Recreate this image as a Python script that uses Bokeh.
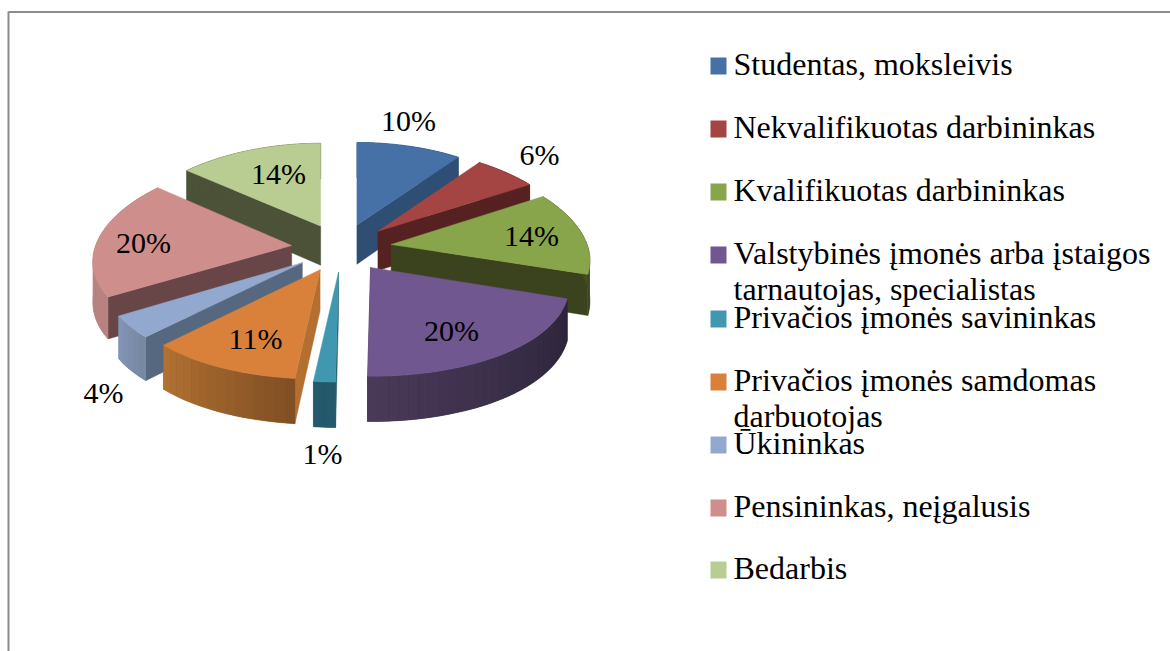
import math
from bokeh.plotting import figure
from bokeh.models import Range1d
from bokeh.core.properties import value
from bokeh.embed import file_html
from bokeh.resources import INLINE

categories = ["Studentas, moksleivis", "Nekvalifikuotas darbininkas", "Kvalifikuotas darbininkas",
              "Valstybinės įmonės arba įstaigos\ntarnautojas, specialistas", "Privačios įmonės savininkas",
              "Privačios įmonės samdomas\ndarbuotojas", "Ūkininkas", "Pensininkas, neįgalusis", "Bedarbis"]
shares = [10.0, 6.0, 14.0, 20.2, 1.5, 10.7, 3.9, 20.0, 13.7]
labels = ["10%", "6%", "14%", "20%", "1%", "11%", "4%", "20%", "14%"]
top_colors = ["#4571A7", "#A54543", "#88A54C", "#71578F", "#3F98B0", "#D9813B", "#92A8CF", "#CE8E8C", "#B9CC92"]
face_colors = ["#2E4E74", "#552221", "#3A431D", "#2E2540", "#24596B", "#B26F30", "#566880", "#684647", "#4B5238"]
wall_from = ["#2E4E74", "#552221", "#4C5A27", "#2B2339", "#24596B", "#7F4E23", "#75879F", "#B78280", "#4B5238"]
wall_to = ["#2E4E74", "#552221", "#3D4620", "#4A3A58", "#24596B", "#B37233", "#8395B8", "#B78280", "#4B5238"]
paint_order = [0, 8, 1, 7, 2, 6, 5, 3, 4]
label_x = [408, 539, 531, 451, 322, 255, 103, 143, 278]
label_y = [119.5, 153.5, 234.5, 329.5, 452.5, 337.5, 391.5, 241.5, 172.5]
legend_y = [63, 126, 189, 252, 316, 379, 442, 505, 567]
swatch_y = [65, 128, 191, 254, 318, 381, 444, 507, 569]

W, H = 1170, 651
CX, CY, A, B, KX, KY, EXPLODE, DEPTH = 341.0, 247.0, 196.0, 94.5, 0.17, 0.095, 0.255, 40.0


def project(ox, oy, du, dv, lower=False):
    v = oy + dv
    y = CY - B * v / (1 + KY * v)
    if lower:
        y += DEPTH / (1 + KY * v)
    return CX + A * ox + A * du / (1 + KX * dv), y


def hex_mix(c0, c1, t):
    a = [int(c0[i:i + 2], 16) for i in (1, 3, 5)]
    b = [int(c1[i:i + 2], 16) for i in (1, 3, 5)]
    return "#%02x%02x%02x" % tuple(round(p + (q - p) * t) for p, q in zip(a, b))


total = float(sum(shares))
starts, ends, run = [], [], 0.0
for s in shares:
    starts.append(run / total * 2 * math.pi)
    run += s
    ends.append(run / total * 2 * math.pi)

xs, ys, fills, edges = [], [], [], []


def add(poly, color, edge=1.0):
    xs.append([q[0] for q in poly])
    ys.append([q[1] for q in poly])
    fills.append(color)
    edges.append(edge)


for i in paint_order:
    a0, a1 = starts[i], ends[i]
    mid = (a0 + a1) / 2
    ox, oy = EXPLODE * math.sin(mid), EXPLODE * math.cos(mid)
    n = max(4, int((a1 - a0) / math.radians(2.5)))
    arc = [(ox, oy, math.sin(a0 + (a1 - a0) * k / n), math.cos(a0 + (a1 - a0) * k / n)) for k in range(n + 1)]
    apex = (ox, oy, 0.0, 0.0)
    # visible radial face
    edge = arc[-1] if mid < math.pi else arc[0]
    add([project(*apex), project(*edge), project(*edge, lower=True), project(*apex, lower=True)], face_colors[i])
    # outer wall: a solid base, then shading strips along the arc
    add([project(*q) for q in arc] + [project(*q, lower=True) for q in reversed(arc)],
        hex_mix(wall_from[i], wall_to[i], 0.5))
    for k in range(n):
        q0, q1 = arc[k], arc[k + 1]
        add([project(*q0), project(*q1), project(*q1, lower=True), project(*q0, lower=True)],
            hex_mix(wall_from[i], wall_to[i], (k + 0.5) / n), 0.0)
    # top
    add([project(*apex)] + [project(*q) for q in arc], top_colors[i])

p = figure(width=W, height=H, x_range=Range1d(0, W), y_range=Range1d(H, 0),
           output_backend="svg", toolbar_location=None, min_border=0)
p.xaxis.visible = False
p.yaxis.visible = False
p.grid.visible = False
p.outline_line_color = None
p.background_fill_color = "white"

p.line([8, W], [11.5, 11.5], line_color="#8c8c8c", line_width=2)
p.line([8, 8], [11, H], line_color="#8c8c8c", line_width=2)

p.patches(xs, ys, fill_color=fills, line_color=fills, line_alpha=edges, line_width=0.5)

FONT = value("Liberation Serif")
p.text(label_x, label_y, text=labels, text_font=FONT, text_font_size="30px", text_color="#000000",
       text_align="center", text_baseline="middle")

LINE_GAP = 36
for cat, y, sy, col in zip(categories, legend_y, swatch_y, top_colors):
    p.quad(left=[710], right=[726], top=[sy - 8], bottom=[sy + 9], fill_color=col, line_color=None)
    for j, line in enumerate(cat.split("\n")):
        p.text([733], [y + j * LINE_GAP], text=[line], text_font=FONT, text_font_size="32px",
               text_color="#000000", text_align="left", text_baseline="middle")

open("out.html", "w").write(file_html(p, INLINE))
